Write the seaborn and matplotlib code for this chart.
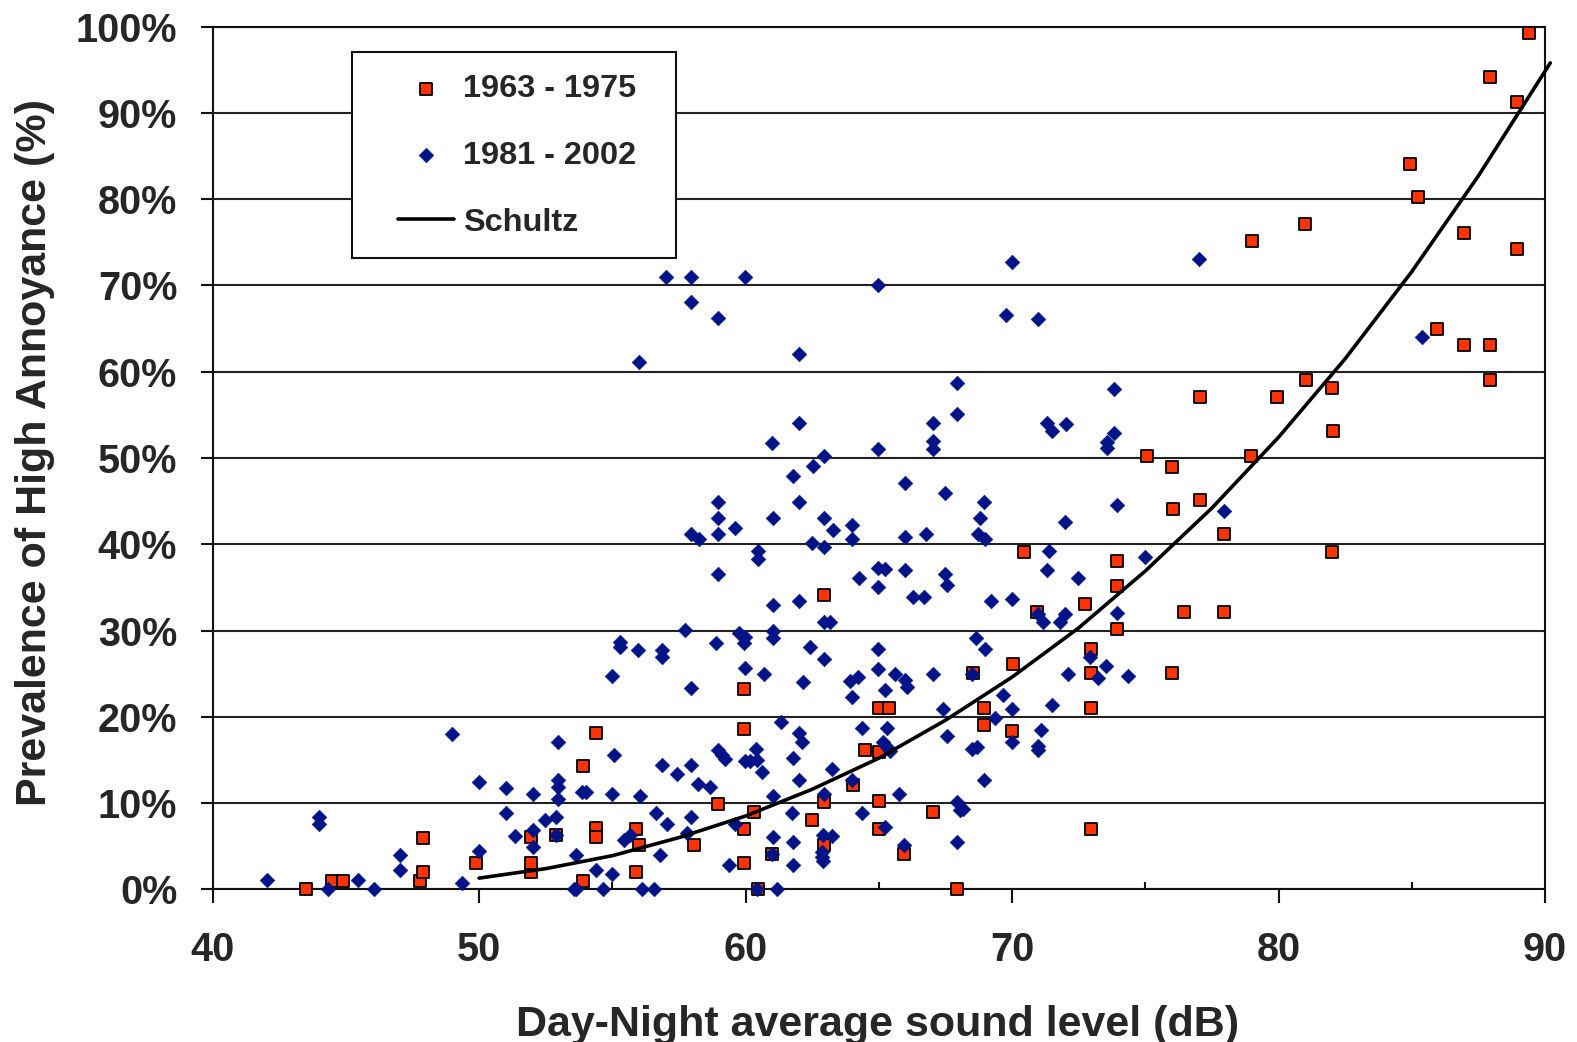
import matplotlib
matplotlib.use("Agg")
import matplotlib.pyplot as plt
import seaborn as sns
from matplotlib.patches import Rectangle

# ---------------- data ----------------
# 1963 - 1975 surveys (red squares): Ldn (dB), % highly annoyed
old_x = [43.5, 44.5, 44.9, 47.8, 47.9, 47.9, 49.9, 51.95, 51.95, 51.95,
         52.9, 53.9, 53.9, 54.4, 54.4, 54.4, 55.9, 56.0, 55.9, 58.05,
         58.95, 59.95, 59.95, 59.95, 59.95, 60.3, 60.45, 61.0, 62.5, 62.95,
         62.95, 62.95, 64.05, 64.5, 65.0, 65.0, 65.4, 65.0, 65.0, 65.95,
         67.05, 67.95, 68.55, 68.95, 68.95, 70.05, 70.0, 70.45, 70.95, 72.75,
         72.95, 72.95, 72.95, 72.95, 73.95, 73.95, 73.95, 75.05, 76.0, 76.05,
         76.0, 76.45, 77.05, 77.05, 77.95, 77.95, 78.95, 79.0, 79.95, 81.05,
         81.0, 82.0, 82.05, 82.0, 84.95, 85.25, 85.95, 86.95, 86.95, 87.95,
         87.95, 87.95, 88.95, 88.95, 89.4]
old_y = [0, 1, 1, 1, 2, 6, 3, 2, 3, 6.1,
         6.3, 14.3, 1, 18.1, 7.1, 6.1, 7, 5.1, 2, 5.1,
         9.9, 23.2, 18.6, 7.0, 3.0, 9.0, 0, 4.1, 8.0, 10.1,
         5.1, 34.1, 12.1, 16.2, 15.9, 21.0, 21.0, 10.2, 7.0, 4.1,
         9.0, 0, 25.1, 21.0, 19.1, 26.1, 18.4, 39.1, 32.1, 33.1,
         27.9, 25.1, 21.0, 7.0, 38.1, 35.2, 30.2, 50.2, 49.0, 44.1,
         25.1, 32.1, 45.1, 57.1, 41.2, 32.1, 50.2, 75.2, 57.1, 59.0,
         77.1, 58.1, 53.1, 39.1, 84.1, 80.2, 65.0, 76.1, 63.1, 94.2,
         63.1, 59.0, 91.3, 74.2, 99.3]

# 1981 - 2002 surveys (blue diamonds)
new_x = [42.05, 43.98, 43.98, 44.35, 45.47, 46.05, 47.05, 47.05, 48.97, 49.37,
         50.0, 50.0, 51.0, 51.0, 51.35, 52.03, 52.03, 52.03, 52.46, 52.9,
         52.9, 52.97, 52.97, 52.97, 52.97, 53.65, 53.55, 53.65, 53.85, 54.0,
         54.37, 54.65, 54.97, 55.05, 54.97, 54.97, 55.28, 55.28, 55.45, 55.65,
         55.95, 56.05, 56.1, 56.55, 56.78, 56.65, 56.85, 56.85, 56.85, 62.95,
         62.55, 61.77, 65.99, 67.49, 68.96, 58.98, 62.02, 58.98, 61.02, 62.95,
         68.8, 72.0, 59.61, 63.27, 63.98, 63.98, 57.95, 58.27, 58.98, 65.99,
         66.77, 68.74, 68.99, 62.51, 62.95, 60.45, 60.45, 71.39, 58.98, 64.98,
         65.24, 65.99, 71.3, 67.49, 67.55, 64.27, 64.98, 72.49, 66.3, 66.7,
         69.2, 69.99, 61.02, 62.02, 62.95, 63.17, 70.99, 71.18, 71.8, 71.99,
         57.73, 58.89, 59.77, 59.98, 59.94, 61.02, 61.02, 62.42, 62.95, 64.98,
         68.65, 68.99, 72.93, 73.24, 59.98, 60.7, 64.98, 65.61, 67.02, 68.49,
         72.09, 57.95, 62.17, 63.92, 64.23, 63.98, 65.99, 66.05, 65.24, 69.68,
         69.99, 71.49, 69.36, 67.42, 61.33, 64.37, 65.3, 62.02, 62.11, 67.55,
         71.08, 69.99, 70.99, 70.99, 68.49, 68.67, 65.17, 65.32, 65.42, 58.98,
         59.11, 59.23, 57.42, 57.95, 58.21, 58.67, 59.98, 60.17, 60.4, 60.42,
         60.61, 61.77, 62.02, 63.23, 63.98, 68.93, 57.04, 57.95, 57.79, 59.61,
         61.02, 61.73, 62.95, 61.02, 61.77, 62.92, 63.23, 62.86, 62.86, 62.9,
         64.37, 65.24, 65.77, 65.95, 67.95, 68.05, 68.17, 67.95, 61.77, 59.37,
         60.98, 60.42, 61.17, 56.0, 57.0, 57.96, 59.99, 57.96, 58.98, 62.02,
         64.98, 69.99, 69.76, 70.99, 67.95, 67.95, 62.02, 61.01, 67.02, 67.02,
         67.02, 64.98, 71.3, 71.49, 72.01, 77.02, 85.37, 73.81, 73.81, 73.56,
         73.56, 73.95, 77.96, 74.99, 73.95, 73.51, 74.36]
new_y = [1.1, 8.4, 7.6, 0, 1.1, 0, 4.0, 2.3, 18.0, 0.7,
         12.45, 4.5, 11.7, 8.9, 6.15, 11.1, 6.9, 4.9, 8.0, 8.4,
         6.3, 12.7, 11.9, 10.5, 17.1, 4.0, 0, 0, 11.3, 11.3,
         2.2, 0, 1.8, 15.55, 11.0, 24.7, 28.7, 28.1, 5.7, 6.3,
         27.8, 10.8, 0, 0, 4.0, 8.9, 27.8, 26.95, 14.4, 50.2,
         49.1, 47.9, 47.15, 46.0, 44.95, 44.95, 44.95, 43.0, 43.0, 43.0,
         43.0, 42.55, 41.85, 41.66, 42.2, 40.6, 41.15, 40.6, 41.15, 40.9,
         41.15, 41.15, 40.6, 40.2, 39.65, 39.26, 38.25, 39.26, 36.55, 37.3,
         37.1, 37.0, 37.0, 36.55, 35.3, 36.1, 35.1, 36.1, 33.9, 33.9,
         33.4, 33.65, 32.95, 33.4, 31.0, 31.0, 31.9, 31.0, 31.0, 31.9,
         30.05, 28.6, 29.7, 29.3, 28.6, 29.9, 29.1, 28.1, 26.65, 27.9,
         29.1, 27.9, 26.96, 24.45, 25.7, 25.0, 25.5, 25.0, 25.0, 25.0,
         25.0, 23.3, 24.05, 24.2, 24.6, 22.3, 24.25, 23.5, 23.1, 22.5,
         20.85, 21.35, 19.9, 20.96, 19.4, 18.76, 18.76, 18.07, 17.1, 17.75,
         18.45, 17.1, 16.6, 16.1, 16.3, 16.5, 17.1, 16.5, 16.0, 16.1,
         15.55, 15.15, 13.4, 14.4, 12.26, 11.9, 14.9, 14.9, 16.3, 15.0,
         13.6, 15.2, 12.7, 14.0, 12.65, 12.7, 7.6, 8.4, 6.5, 7.6,
         10.8, 8.86, 11.1, 6.1, 5.5, 6.3, 6.15, 4.3, 3.75, 3.3,
         8.86, 7.2, 11.0, 5.1, 10.1, 9.17, 9.35, 5.5, 2.8, 2.8,
         4.1, 0, 0, 61.1, 71.0, 71.0, 71.0, 68.1, 66.2, 62.0,
         70.0, 72.7, 66.6, 66.1, 58.7, 55.1, 54.1, 51.7, 54.1, 52.0,
         51.1, 51.1, 54.1, 53.15, 53.9, 73.1, 64.0, 58.0, 52.9, 51.9,
         51.2, 44.5, 43.8, 38.5, 32.0, 25.9, 24.7]

# Schultz curve
schultz_x = [50, 52.5, 55, 57.5, 60, 62.5, 65, 67.5, 70, 72.5,
             75, 77.5, 80, 82.5, 85, 87.5, 90.2]
schultz_y = [1.3, 2.4, 3.9, 6.0, 8.5, 11.6, 15.2, 19.6, 24.6, 30.3,
             36.9, 44.2, 52.4, 61.5, 71.6, 82.7, 95.8]

x_ticks = [40, 50, 60, 70, 80, 90]
x_minor_ticks = [45, 55, 65, 75, 85]
y_ticks = [0, 10, 20, 30, 40, 50, 60, 70, 80, 90, 100]
y_tick_labels = ["0%", "10%", "20%", "30%", "40%", "50%",
                 "60%", "70%", "80%", "90%", "100%"]

series_labels = ["1963 - 1975", "1981 - 2002", "Schultz"]
x_label = "Day-Night average sound level (dB)"
y_label = "Prevalence of High Annoyance (%)"

# ---------------- style ----------------
sns.set_style("white")
plt.rcParams["font.family"] = ["Liberation Sans", "DejaVu Sans"]
plt.rcParams["font.weight"] = "bold"
plt.rcParams["axes.labelweight"] = "bold"

RED = "#ff3300"
BLUE = "#001488"

fig = plt.figure(figsize=(15.77, 10.42), dpi=100)
ax = fig.add_axes([0.1348, 0.1465, 0.8449, 0.8279])

sns.scatterplot(x=old_x, y=old_y, ax=ax, marker="s", s=72, color=RED,
                edgecolor="black", linewidth=1.3, label=series_labels[0],
                clip_on=False, zorder=3)
sns.scatterplot(x=new_x, y=new_y, ax=ax, marker="D", s=56, color=BLUE,
                edgecolor=BLUE, linewidth=0.4, label=series_labels[1],
                clip_on=False, zorder=3)
sns.lineplot(x=schultz_x, y=schultz_y, ax=ax, color="black", linewidth=2.6,
             label=series_labels[2], zorder=4, clip_on=False)

ax.set_xlim(40, 90)
ax.set_ylim(0, 100)
ax.set_xticks(x_ticks)
ax.set_xticks(x_minor_ticks, minor=True)
ax.set_yticks(y_ticks, labels=y_tick_labels)

ax.yaxis.grid(True, color="#222222", linewidth=1.5)
ax.xaxis.grid(False)
ax.set_axisbelow(True)

for sp in ax.spines.values():
    sp.set_visible(True)
    sp.set_color("#111111")
    sp.set_linewidth(1.5)

ax.tick_params(axis="x", which="major", direction="out", length=10, width=1.5,
               color="#111111", labelsize=28.5, pad=20, bottom=True)
ax.tick_params(axis="x", which="minor", direction="in", length=5, width=1.5,
               color="#111111", bottom=True)
ax.tick_params(axis="y", which="major", direction="out", length=8.5, width=1.5,
               color="#111111", labelsize=28.5, pad=17, left=True)
for t in ax.get_xticklabels() + ax.get_yticklabels():
    t.set_fontweight("bold")

ax.set_xlabel(x_label, fontsize=31, fontweight="bold")
ax.set_ylabel(y_label, fontsize=31, fontweight="bold")
ax.xaxis.set_label_coords(0.499, -0.1336)
ax.yaxis.set_label_coords(-0.118, 0.506)

# legend: white framed box with entries
box = Rectangle((0.1047, 0.7313), 0.2430, 0.2390, transform=ax.transAxes,
                facecolor="white", edgecolor="#111111", linewidth=1.5,
                zorder=4.5, clip_on=False)
ax.add_patch(box)
leg = ax.legend(loc="upper left", bbox_to_anchor=(0.139, 0.9448),
                frameon=False, fontsize=23.4, borderpad=0, borderaxespad=0,
                handlelength=1.74, handletextpad=0.28, labelspacing=1.13,
                prop={"weight": "bold", "size": 23.4})
leg.set_zorder(6)

fig.savefig("out.png", dpi=100, facecolor="white")
